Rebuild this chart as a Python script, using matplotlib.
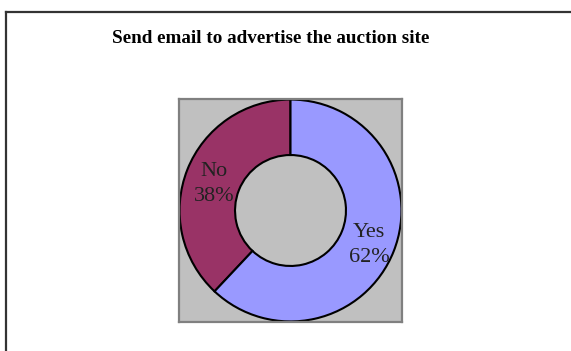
import matplotlib
matplotlib.use("Agg")
import matplotlib.pyplot as plt
from matplotlib.lines import Line2D

title = "Send email to advertise the auction site"
categories = ["No", "Yes"]
values = [38, 62]
colors = ["#993366", "#9999FF"]

W, H = 571, 351
fig = plt.figure(figsize=(W / 100, H / 100), dpi=100)
fig.patch.set_facecolor("white")

# outer chart border (top and left visible)
fig.add_artist(Line2D([5.5 / W, 1.0], [1 - 12 / H, 1 - 12 / H], transform=fig.transFigure,
                      color="#333333", lw=1.6))
fig.add_artist(Line2D([5.5 / W, 5.5 / W], [0, 1 - 12 / H], transform=fig.transFigure,
                      color="#333333", lw=1.6))

fig.text(271 / W, 1 - 43 / H, title, ha="center", va="baseline",
         family="Liberation Serif", fontweight="bold", fontsize=13.8)

ax = fig.add_axes([179 / W, (H - 322) / H, 223 / W, 223 / H])
ax.set_facecolor("#C0C0C0")
for s in ax.spines.values():
    s.set_color("#808080")
    s.set_linewidth(1.6)

labels = [f"{c}\n{v}%" for c, v in zip(categories, values)]
wedges, texts = ax.pie(values, labels=labels, colors=colors, startangle=90,
                       counterclock=True, radius=1.0, labeldistance=0.75,
                       wedgeprops=dict(width=0.5, edgecolor="black", linewidth=1.5),
                       textprops=dict(family="Liberation Serif", fontsize=16,
                                      color="#222222"))
for t in texts:
    t.set_ha("center")
    t.set_va("center")
    t.set_linespacing(1.4)
    x, y = t.get_position()
    t.set_position((x + 0.01, y - 0.035))
ax.set_xlim(-1.005, 1.005)
ax.set_ylim(-1.005, 1.005)
ax.set_aspect("auto")
ax.set_xticks([])
ax.set_yticks([])
ax.set_frame_on(True)

fig.savefig("out.png", dpi=100)
